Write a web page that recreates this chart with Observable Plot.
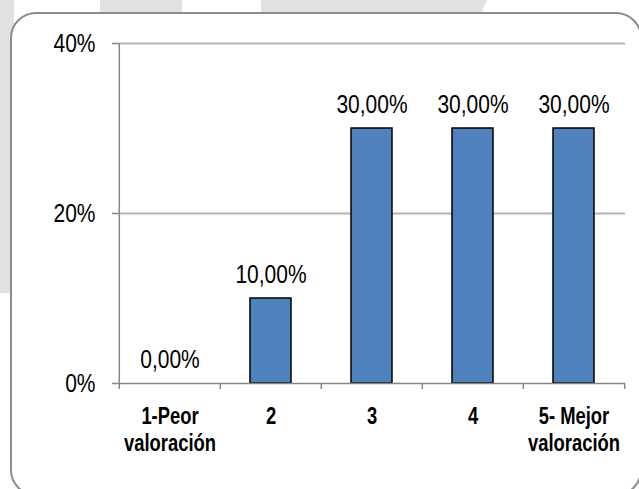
<!DOCTYPE html>
<html><head><meta charset="utf-8">
<script src="https://cdn.jsdelivr.net/npm/d3@7"></script>
<script src="https://cdn.jsdelivr.net/npm/@observablehq/plot@0.6"></script>
<style>
html,body{margin:0;padding:0;background:#fff;}
#wrap{position:relative;width:639px;height:489px;overflow:hidden;}
.wm{position:absolute;background:#e1e1e1;}
#box{position:absolute;left:10px;top:12px;width:632px;height:484px;border:2px solid #8c8c8c;border-radius:26px;background:#fff;box-sizing:border-box;}
#chart{position:absolute;left:0;top:0;}
</style></head><body>
<div id="wrap">
 <div class="wm" style="left:0;top:0;width:14px;height:293px"></div>
 <div class="wm" style="left:100px;top:0;width:82px;height:20px"></div>
 <div class="wm" style="left:261px;top:0;width:226px;height:20px;clip-path:polygon(0 0,100% 0,96% 100%,0 100%)"></div>
 <div id="box"></div>
 <div id="chart"></div>
</div>
<script>
const categories = ["1-Peor\nvaloración", "2", "3", "4", "5- Mejor\nvaloración"];
const values = [0, 10, 30, 30, 30];
const yTicks = [0, 20, 40];

const data = categories.map((c, i) => ({cat: c, value: values[i]}));
const fmt = v => v.toFixed(2).replace(".", ",") + "%";

const W = 639, H = 489, mL = 118, mR = 14, mT = 43, mB = 106;
const step = (W - mL - mR) / categories.length;
const FONT = "'Liberation Sans',Arial,sans-serif";
const axisGray = "#868686";

const chart = Plot.plot({
  width: W, height: H,
  marginLeft: mL, marginRight: mR, marginTop: mT, marginBottom: mB,
  style: {background: "transparent", fontFamily: FONT, color: "#000", overflow: "visible"},
  x: {domain: categories, paddingInner: 0.59, paddingOuter: 0.295, label: null},
  y: {domain: [0, 40], label: null},
  marks: [
    Plot.gridY(yTicks.filter(d => d > 0), {stroke: "#b3b3b3", strokeOpacity: 1, strokeWidth: 2}),
    Plot.barY(data.filter(d => d.value > 0), {x: "cat", y: "value", fill: "#4f81bd", stroke: "#000", strokeWidth: 1.5}),
    Plot.ruleY([0], {stroke: axisGray, strokeWidth: 1.5}),
    Plot.ruleX([categories[0]], {x: d => d, y1: 0, y2: 40, dx: -step / 2, stroke: axisGray, strokeWidth: 1.5}),
    Plot.ruleX(categories, {x: d => d, y1: 0, y2: 0, insetBottom: -6, dx: -step / 2, stroke: axisGray, strokeWidth: 1.5}),
    Plot.ruleX([categories[categories.length - 1]], {x: d => d, y1: 0, y2: 0, insetBottom: -6, dx: step / 2, stroke: axisGray, strokeWidth: 1.5}),
    Plot.axisY(yTicks, {tickSize: 6, tickPadding: 17, tickFormat: d => d + "%", stroke: axisGray, strokeWidth: 1.5, fontSize: 25, fill: "#000", label: null, className: "sq-reg"}),
    Plot.axisX({tickSize: 0, tickPadding: 22, fontSize: 23, fontWeight: "bold", lineHeight: 1.15, fill: "#000", label: null, className: "sq-bold"}),
    Plot.text(data, {x: "cat", y: "value", text: d => fmt(d.value), dy: -16, lineAnchor: "bottom", fontSize: 25, fill: "#000", className: "sq-reg"})
  ]
});
document.getElementById("chart").appendChild(chart);

// Condense glyphs horizontally (narrow typeface look), keeping each label's anchor fixed
function squeeze(sel, s) {
  chart.querySelectorAll(sel).forEach(t => {
    const b = t.getBBox();
    const anchor = getComputedStyle(t).textAnchor;
    const ax = anchor === "end" ? b.x + b.width : anchor === "middle" ? b.x + b.width / 2 : b.x;
    const prev = t.getAttribute("transform") || "";
    t.setAttribute("transform", `${prev} translate(${ax},0) scale(${s},1) translate(${-ax},0)`);
  });
}
squeeze(".sq-reg text", 0.84);
squeeze(".sq-bold text", 0.8);
</script>
</body></html>
